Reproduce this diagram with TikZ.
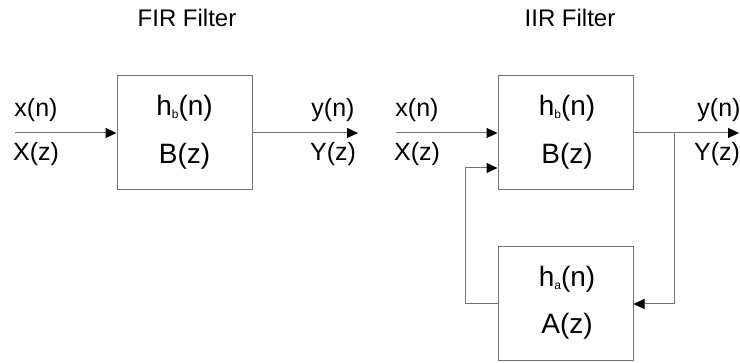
\documentclass[tikz,border=0pt]{standalone}
\usepackage{fontspec}
\setmainfont{Liberation Sans}
\usetikzlibrary{arrows.meta}
\newcommand{\mysub}[1]{\raisebox{-3pt}{\fontsize{12}{12}\selectfont #1}}
\begin{document}
\begin{tikzpicture}[x=1pt,y=-1pt,
  box/.style={draw=black!55,line width=1pt,minimum width=135pt,minimum height=114pt,inner sep=0pt},
  wire/.style={draw=black!55,line width=1pt},
  arr/.style={wire,-{Triangle[length=11pt,width=10pt,fill=black,color=black]}},
  lbl/.style={font=\fontsize{25}{28}\selectfont,inner sep=0pt},
  blbl/.style={font=\fontsize{28}{30}\selectfont,inner sep=0pt},
  ttl/.style={font=\fontsize{24}{28}\selectfont,inner sep=0pt}]
\useasboundingbox (0,0) rectangle (740,363);
% titles
\node[ttl] (t1) at (187,18) {FIR Filter};
\node[ttl] (t2) at (570,18) {IIR Filter};
% FIR
\node[box] (fir) at (184.5,133) {};
\node[blbl] (firh) at (184.5,108) {h\mysub{b}(n)};
\node[blbl] (firb) at (184.5,156) {B(z)};
\coordinate (in1) at (15,133);
\coordinate (out1) at (358,133);
\draw[arr] (in1) -- (fir.west);
\draw[arr] (fir.east) -- (out1);
\node[lbl] (x1) at (36,110) {x(n)};
\node[lbl] (X1) at (36,154) {X(z)};
\node[lbl] (y1) at (333,110) {y(n)};
\node[lbl] (Y1) at (333,154) {Y(z)};
% IIR
\node[box] (iirb) at (565.5,133) {};
\node[blbl] (iirbh) at (567,108) {h\mysub{b}(n)};
\node[blbl] (iirbb) at (567,156) {B(z)};
\node[box] (iira) at (565.5,304) {};
\node[blbl] (iirah) at (567,279) {h\mysub{a}(n)};
\node[blbl] (iiraa) at (567,326) {A(z)};
\coordinate (in2) at (396,133);
\coordinate (out2) at (739,133);
\coordinate (br) at (674,133);
\coordinate (fb) at (465,168);
\draw[arr] (in2) -- (iirb.west);
\draw[arr] (iirb.east) -- (out2);
\draw[arr] (br) |- (iira.east);
\draw[arr] (iira.west) -| (fb) -- (iirb.west |- fb);
\node[lbl] (x2) at (417,110) {x(n)};
\node[lbl] (X2) at (417,154) {X(z)};
\node[lbl] (y2) at (719,110) {y(n)};
\node[lbl] (Y2) at (717,154) {Y(z)};
\end{tikzpicture}
\end{document}
